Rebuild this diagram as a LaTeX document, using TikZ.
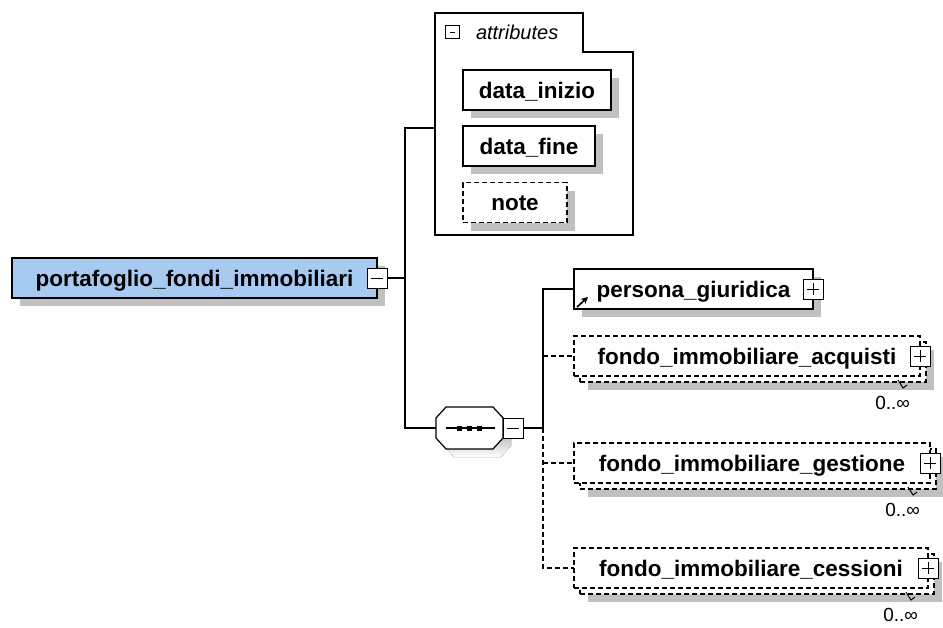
\documentclass[tikz,border=0pt]{standalone}
\usepackage{fontspec}
\setmainfont{Liberation Sans}
\usetikzlibrary{shadows,arrows.meta}
\definecolor{rootblue}{RGB}{166,202,240}
\definecolor{shade}{RGB}{192,192,192}
\begin{document}
\begin{tikzpicture}
            [
                x = 1pt, y = -1pt,
                line width = 1.2pt,
                every node/.style = {inner sep=0pt, outer sep=0pt},
                shadowed/.style = {general shadow={fill=shade,
                    shadow xshift=8pt, shadow yshift=-8pt}},
                box/.style = {shape=rectangle, draw, fill=white, anchor=west,
                    minimum height=40pt, text height=17pt, text depth=1pt,
                    font=\fontsize{22.5}{26}\selectfont\bfseries},
                elem/.style = {box, shadowed},
                opt/.style = {dash pattern=on 5pt off 3pt},
                toggle/.style = {shape=rectangle, draw, fill=white,
                    minimum size=20pt, line width=1pt},
                minus/.style = {toggle, path picture={
                    \draw[line width=1pt]
                        ([xshift=4pt]path picture bounding box.west) --
                        ([xshift=-4pt]path picture bounding box.east);}},
                plus/.style = {toggle, path picture={
                    \draw[line width=1pt]
                        ([xshift=4pt]path picture bounding box.west) --
                        ([xshift=-4pt]path picture bounding box.east)
                        ([yshift=-4pt]path picture bounding box.north) --
                        ([yshift=4pt]path picture bounding box.south);}},
                card/.style = {anchor=north east,
                    font=\fontsize{19}{22}\selectfont}
            ]
            \useasboundingbox (0,0) rectangle (943,627);

            % root element
            \node[elem, fill=rootblue, minimum width=365pt] (root) at (12,278)
                {portafoglio\_fondi\_immobiliari};
            \node[minus] (rootToggle) at (root.east) {};

            % attributes
            \draw[fill=white] (435,13) -- (583,13) -- (583,52) -- (633,52)
                -- (633,235) -- (435,235) -- cycle;
            \coordinate (attrIn) at (435,128);
            \node[minus, minimum size=13.5pt] (attrToggle) at (452.5,32) {};
            \node[anchor=west, font=\fontsize{20}{24}\selectfont\itshape]
                (attrLabel) at (476,32) {attributes};
            \node[elem, minimum width=148pt] (dataInizio) at (463,90) {data\_inizio};
            \node[elem, minimum width=132pt] (dataFine) at (463,146) {data\_fine};
            \node[elem, opt, minimum width=104pt] (note) at (463,202.5) {note};

            % sequence
            \fill[shade, shift={(8,8)}] (446,407) -- (493,407) -- (503,418) -- (503,438)
                -- (493,449) -- (446,449) -- (436,438) -- (436,418) -- cycle;
            \draw[fill=white] (446,407) -- (493,407) -- (503,418) -- (503,438)
                -- (493,449) -- (446,449) -- (436,438) -- (436,418) -- cycle;
            \node[anchor=west, minimum width=67pt, minimum height=42pt]
                (seq) at (436,428) {};
            \draw ([xshift=-24pt]seq.center) -- ([xshift=25pt]seq.center);
            \foreach \dx in {-10,0,10}
                \fill ([xshift=\dx pt]seq.center) +(-2.5,-2.5) rectangle +(2.5,2.5);
            \node[minus, anchor=west] (seqToggle) at (seq.east) {};

            \coordinate (spineTop) at (405,128);
            \coordinate (spineMid) at (405,278);
            \coordinate (spineBot) at (405,428);
            \draw (rootToggle.east) -- (spineMid);
            \draw (attrIn) -- (spineTop) -- (spineBot) -- (seq.west);

            % children
            \node[elem, minimum width=239pt] (persona) at (574,289)
                {persona\_giuridica};
            \node[plus] (personaToggle) at (persona.east) {};
            \draw[-{Stealth[length=7pt,width=7pt]}, line width=1.6pt]
                ([xshift=3pt,yshift=2pt]persona.south west) -- ++(11,-10);

            \node[elem, opt, minimum width=346pt] (acqBack) at (580,362) {};
            \node[box, opt, minimum width=346pt] (acquisti) at (574,356)
                {fondo\_immobiliare\_acquisti};
            \node[plus] (acqToggle) at (acquisti.east) {};
            \draw[line width=1pt] (acqBack.south east) ++(-28,-2) -- ++(5,8) -- ++(4,-3);
            \node[card] (acqCard) at ([xshift=-16pt,yshift=-14pt]acqBack.south east)
                {0..∞};

            \node[elem, opt, minimum width=356pt] (gesBack) at (580,469) {};
            \node[box, opt, minimum width=356pt] (gestione) at (574,463)
                {fondo\_immobiliare\_gestione};
            \node[plus] (gesToggle) at (gestione.east) {};
            \draw[line width=1pt] (gesBack.south east) ++(-28,-2) -- ++(5,8) -- ++(4,-3);
            \node[card] (gesCard) at ([xshift=-16pt,yshift=-14pt]gesBack.south east)
                {0..∞};

            \node[elem, opt, minimum width=354pt] (cesBack) at (580,574) {};
            \node[box, opt, minimum width=354pt] (cessioni) at (574,568)
                {fondo\_immobiliare\_cessioni};
            \node[plus] (cesToggle) at (cessioni.east) {};
            \draw[line width=1pt] (cesBack.south east) ++(-28,-2) -- ++(5,8) -- ++(4,-3);
            \node[card] (cesCard) at ([xshift=-16pt,yshift=-14pt]cesBack.south east)
                {0..∞};

            \coordinate (fork) at (543,428);
            \draw (seqToggle.east) -- (fork);
            \draw (fork) |- (persona.west);
            \draw[opt] (fork) -- (fork |- cessioni.west) -- (cessioni.west);
            \draw[opt] (fork |- acquisti.west) -- (acquisti.west);
            \draw[opt] (fork |- gestione.west) -- (gestione.west);
        \end{tikzpicture}
\end{document}
